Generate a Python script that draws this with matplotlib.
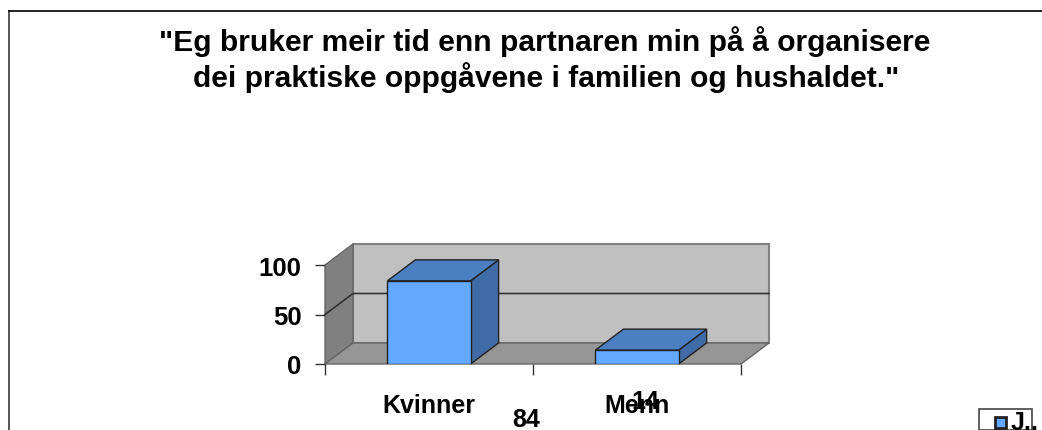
import matplotlib
matplotlib.use('Agg')
import matplotlib.pyplot as plt
from matplotlib.patches import Polygon, Rectangle

plt.rcParams['font.family'] = ['Liberation Sans', 'DejaVu Sans']

title_lines = ['"Eg bruker meir tid enn partnaren min på å organisere',
               'dei praktiske oppgåvene i familien og hushaldet."']
categories = ['Kvinner', 'Menn']
values = [84, 14]
y_ticks = [0, 50, 100]
legend_label = 'J..'

W, H = 1042, 431
fig = plt.figure(figsize=(W / 100, H / 100), dpi=100)

# pixel helper for figure level stuff
def px(x, y):
    return x / W, 1 - y / H

# outer chart border, runs off the image at right and bottom
fig.add_artist(plt.Line2D([px(9, 0)[0], px(9, 0)[0]], [px(0, 431)[1], px(0, 12)[1]], color='#555555', lw=1.4))
fig.add_artist(plt.Line2D([px(9, 0)[0], 1], [px(0, 12)[1], px(0, 12)[1]], color='black', lw=1.2))

fig.text(px(545, 0)[0], px(0, 42)[1], title_lines[0], ha='center', va='center', fontsize=21.6, fontweight='bold', color='black')
fig.text(px(546, 0)[0], px(0, 78)[1], title_lines[1], ha='center', va='center', fontsize=21.6, fontweight='bold', color='black')

ax = fig.add_axes([325 / W, (H - 365) / H, 416 / W, 99 / H])
ax.set_xlim(0, 2)
ax.set_ylim(0, 100)
ax.patch.set_visible(False)
for s in ax.spines.values():
    s.set_visible(False)

# depth of the 3d box in data units
dx = 28 / 208
dy = 21 / 99 * 100
bar_w = 0.4

edge = '#222222'
wall = '#808080'

# back wall, side wall and floor
ax.add_patch(Polygon([(dx, dy), (2 + dx, dy), (2 + dx, 100 + dy), (dx, 100 + dy)], fc='#C0C0C0', ec='#808080', lw=1.5, clip_on=False, zorder=1))
ax.add_patch(Polygon([(0, 0), (dx, dy), (dx, 100 + dy), (0, 100)], fc=wall, ec='#666666', lw=1, clip_on=False, zorder=1))
ax.add_patch(Polygon([(0, 0), (2, 0), (2 + dx, dy), (dx, dy)], fc='#969696', ec='#666666', lw=1, clip_on=False, zorder=1))

# gridlines at 50 and 100
for t in y_ticks[1:-1]:
    ax.plot([0, dx, 2 + dx], [t, t + dy, t + dy], color='#333333', lw=1.2, clip_on=False, zorder=2)

for i, v in enumerate(values):
    c = i + 0.5
    l, r = c - bar_w / 2, c + bar_w / 2
    ax.add_patch(Polygon([(r, 0), (r + dx, dy), (r + dx, v + dy), (r, v)], fc='#3F6CA6', ec=edge, lw=1, clip_on=False, zorder=3))
    ax.add_patch(Polygon([(l, v), (r, v), (r + dx, v + dy), (l + dx, v + dy)], fc='#4A80C2', ec=edge, lw=1, clip_on=False, zorder=3))
    ax.bar(c, v, width=bar_w, color='#62A9FF', edgecolor=edge, lw=1, zorder=4)

ax.set_yticks(y_ticks)
ax.set_yticklabels([str(t) for t in y_ticks], fontsize=18.5, fontweight='bold')
ax.set_xticks([0, 1, 2])
ax.set_xticklabels([])
ax.set_xticks([0.5, 1.5], minor=True)
ax.set_xticklabels(categories, minor=True, fontsize=18, fontweight='bold')
ax.tick_params(axis='y', length=7, width=1, color='#333333', pad=10)
ax.tick_params(axis='x', which='major', length=8, width=1, color='#333333')
ax.tick_params(axis='x', which='minor', length=0, pad=21)

# data labels sit displaced below the axis in the original
ax.annotate(str(values[0]), (0.5, 0), xytext=(97, -55), textcoords='offset pixels', ha='center', va='center', fontsize=18, fontweight='bold')
ax.annotate(str(values[1]), (1.5, 0), xytext=(8, -37), textcoords='offset pixels', ha='center', va='center', fontsize=18, fontweight='bold')

# legend box cut off by the bottom edge
fig.add_artist(Rectangle(px(979, 431), 53 / W, 21 / H, transform=fig.transFigure, fc='white', ec='#444444', lw=1.2))
fig.add_artist(Rectangle(px(995, 429), 11 / W, 11 / H, transform=fig.transFigure, fc='#62A9FF', ec='#222222', lw=2))
fig.text(*px(1011, 423), legend_label, ha='left', va='center', fontsize=18, fontweight='bold')

plt.savefig('out.png', dpi=100)
